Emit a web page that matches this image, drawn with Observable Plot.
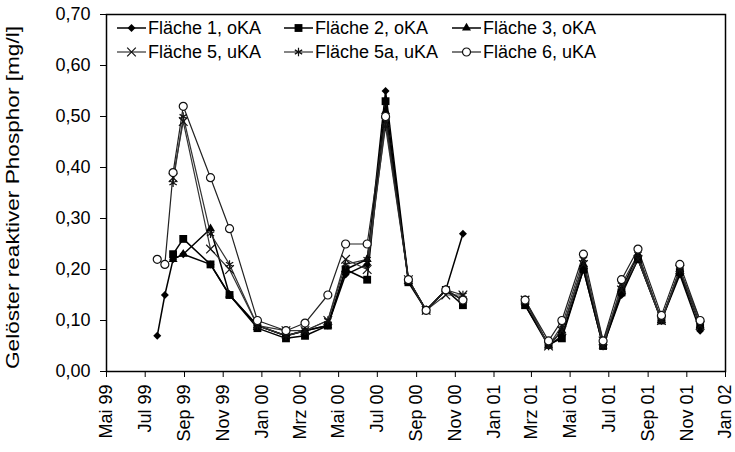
<!DOCTYPE html>
<html><head><meta charset="utf-8">
<script src="https://cdn.jsdelivr.net/npm/d3@7"></script>
<script src="https://cdn.jsdelivr.net/npm/@observablehq/plot@0.6"></script>
<style>
body{margin:0;background:#fff;}
#chart{width:735px;height:452px;}
</style>
</head><body><div id="chart"></div>
<script>
// ---- data ----
const seriesNames = ["Fläche 1, oKA","Fläche 2, oKA","Fläche 3, oKA","Fläche 5, uKA","Fläche 5a, uKA","Fläche 6, uKA"];
const dates1 = ["1999-07-20","1999-08-01","1999-08-14","1999-08-30","1999-10-12","1999-11-11","1999-12-25","2000-02-08","2000-03-09","2000-04-14","2000-05-12","2000-06-15","2000-07-14","2000-08-19","2000-09-16","2000-10-17","2000-11-13"];
const dates2 = ["2001-02-19","2001-03-28","2001-04-18","2001-05-22","2001-06-22","2001-07-21","2001-08-16","2001-09-22","2001-10-21","2001-11-22"];
const f1_p1 = [0.07,0.15,0.22,0.23,0.21,0.15,0.09,0.07,0.08,0.09,0.19,0.21,0.55,0.18,0.12,0.16,0.27];
const f1_p2 = [0.13,0.05,0.07,0.20,0.05,0.15,0.22,0.10,0.19,0.08];
const f2_p1 = [null,null,0.23,0.26,0.21,0.15,0.085,0.065,0.07,0.09,0.20,0.18,0.53,0.175,0.12,0.16,0.13];
const f2_p2 = [0.13,0.053,0.065,0.20,0.05,0.155,0.22,0.10,0.195,0.09];
const f3_p1 = [null,null,0.22,0.23,0.28,0.15,0.09,0.07,0.08,0.09,0.20,0.22,0.51,0.18,0.12,0.16,0.14];
const f3_p2 = [0.14,0.05,0.08,0.21,0.05,0.16,0.23,0.10,0.20,0.09];
const f5_p1 = [null,null,0.38,0.49,0.24,0.20,0.09,0.08,0.08,0.10,0.22,0.20,0.49,0.18,0.12,0.15,0.15];
const f5_p2 = [0.14,0.05,0.08,0.21,0.06,0.16,0.22,0.10,0.20,0.09];
const f5a_p1 = [null,null,0.37,0.50,0.27,0.21,0.09,0.07,0.08,0.10,0.21,0.22,0.48,0.18,0.12,0.16,0.15];
const f5a_p2 = [0.14,0.05,0.09,0.22,0.05,0.17,0.23,0.10,0.20,0.10];
const f6_p1 = [0.22,0.21,0.39,0.52,0.38,0.28,0.10,0.08,0.095,0.15,0.25,0.25,0.50,0.18,0.12,0.16,0.14];
const f6_p2 = [0.14,0.06,0.10,0.23,0.06,0.18,0.24,0.11,0.21,0.10];
const xTicks = ["1999-05-01","1999-07-01","1999-09-01","1999-11-01","2000-01-01","2000-03-01","2000-05-01","2000-07-01","2000-09-01","2000-11-01","2001-01-01","2001-03-01","2001-05-01","2001-07-01","2001-09-01","2001-11-01","2002-01-01"];
const xTickLabels = ["Mai 99","Jul 99","Sep 99","Nov 99","Jan 00","Mrz 00","Mai 00","Jul 00","Sep 00","Nov 00","Jan 01","Mrz 01","Mai 01","Jul 01","Sep 01","Nov 01","Jan 02"];
const yTicks = [0,0.1,0.2,0.3,0.4,0.5,0.6,0.7];
const yTitle = "Gelöster reaktiver Phosphor [mg/l]";

// ---- build table ----
const parts = [[f1_p1,f1_p2],[f2_p1,f2_p2],[f3_p1,f3_p2],[f5_p1,f5_p2],[f5a_p1,f5a_p2],[f6_p1,f6_p2]];
const rows = [];
seriesNames.forEach((s, si) => {
  [dates1, dates2].forEach((ds, pi) => {
    ds.forEach((d, i) => {
      const v = parts[si][pi][i];
      if (v != null) rows.push({series: s, period: pi, date: new Date(d + "T00:00:00Z"), value: v});
    });
  });
});

const styles = [
  {symbol: "diamond2", r: 3.6, fill: "#000", stroke: "none", line: "#000", lw: 1.5},
  {symbol: "square2", r: 5, fill: "#000", stroke: "none", line: "#000", lw: 1.5},
  {symbol: "triangle2", r: 4.3, fill: "#000", stroke: "none", line: "#000", lw: 1.5},
  {symbol: "times", r: 4, fill: "none", stroke: "#111", line: "#333", lw: 1.2},
  {symbol: "asterisk", r: 4, fill: "none", stroke: "#111", line: "#333", lw: 1.2},
  {symbol: "circle", r: 4, fill: "#fff", stroke: "#111", line: "#222", lw: 1.2}
];

const tickDates = xTicks.map(d => new Date(d + "T00:00:00Z"));
const fmtComma = d => d.toFixed(2).replace(".", ",");

const marks = [];
seriesNames.forEach((s, si) => {
  const st = styles[si];
  marks.push(Plot.line(rows.filter(r => r.series === s), {x: "date", y: "value", z: "period", stroke: st.line, strokeWidth: st.lw}));
});
seriesNames.forEach((s, si) => {
  const st = styles[si];
  marks.push(Plot.dot(rows.filter(r => r.series === s), {x: "date", y: "value", symbol: () => st.symbol, r: st.r, fill: st.fill, stroke: st.stroke, strokeWidth: 1.2}));
});

const chart = Plot.plot({
  width: 735, height: 452,
  marginLeft: 106, marginRight: 10, marginTop: 14, marginBottom: 81,
  style: {fontFamily: "'Liberation Sans', Arial, sans-serif", fontSize: "18px", color: "#000", background: "#fff"},
  symbol: {type: "identity"},
  x: {type: "utc", domain: [tickDates[0], tickDates[tickDates.length - 1]], label: null},
  y: {domain: [0, 0.7], label: null},
  marks: [
    ...marks,
    Plot.axisY({ticks: yTicks, tickFormat: fmtComma, tickSize: 6, tickPadding: 10, label: null, stroke: "#000"}),
    Plot.axisX({ticks: tickDates, tickFormat: d => xTickLabels[tickDates.findIndex(t => +t === +d)], tickSize: 6, tickRotate: -90, tickPadding: 7, label: null, stroke: "#000"}),
    Plot.frame({stroke: "#000", strokeWidth: 1.5})
  ]
});
document.getElementById("chart").appendChild(chart);

// ---- y title & legend ----
const svg = d3.select(chart);
svg.append("text")
  .attr("transform", "translate(19,197.5) rotate(-90)")
  .attr("text-anchor", "middle")
  .attr("font-size", 18)
  .attr("textLength", 343)
  .attr("lengthAdjust", "spacingAndGlyphs")
  .attr("fill", "#000")
  .text(yTitle);

const legendPos = [[148,28],[315,28],[483,28],[148,52],[315,52],[483,52]];
const symMap = {diamond2: d3.symbolDiamond2, square2: d3.symbolSquare2, triangle2: d3.symbolTriangle2, times: d3.symbolTimes, asterisk: d3.symbolAsterisk, circle: d3.symbolCircle};
const lg = svg.append("g");
seriesNames.forEach((s, i) => {
  const st = styles[i];
  const [tx, ty] = legendPos[i];
  const g = lg.append("g");
  g.append("line").attr("x1", tx - 31).attr("x2", tx - 2).attr("y1", ty).attr("y2", ty).attr("stroke", st.line).attr("stroke-width", st.lw);
  g.append("path").attr("transform", `translate(${tx - 16.5},${ty})`)
    .attr("d", d3.symbol(symMap[st.symbol], Math.PI * st.r * st.r)())
    .attr("fill", st.fill).attr("stroke", st.stroke).attr("stroke-width", 1.2);
  g.append("text").attr("x", tx).attr("y", ty).attr("dy", "0.35em").attr("text-anchor", "start").attr("font-size", 18).attr("fill", "#000").text(s);
});
</script>
</body></html>
